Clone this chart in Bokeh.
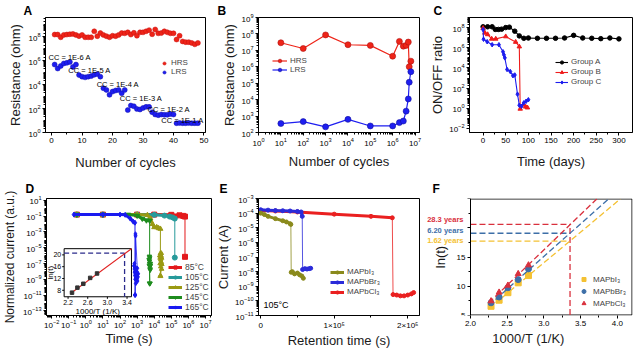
import math
from bokeh.plotting import figure
from bokeh.layouts import column, row
from bokeh.models import (Range1d, FixedTicker, Legend, LegendItem, Label, LinearScale,
                          NumeralTickFormatter, Title)
from bokeh.core.properties import value
from bokeh.embed import file_html
from bokeh.resources import INLINE

FONT = "Liberation Sans"

# ---------------- data ----------------
# Panel A : resistance vs cycle at various compliance currents
a_cycles = list(range(1, 49))
a_hrs = [1.5e8, 1.5e8, 8.9e7, 1.4e8, 1.5e8, 1.6e8, 1.7e8, 1.4e8, 1.1e8, 1.4e8,
         8.9e7, 8.9e7, 8.9e7, 2.8e8, 1.1e8, 2.0e8, 1.4e8, 1.1e8, 8.9e7, 1.2e8,
         1.1e8, 1.4e8, 2.0e8, 1.9e8, 2.3e8, 1.5e8, 2.1e8, 1.2e8, 2.3e8, 2.3e8,
         2.8e8, 3.5e8, 1.6e8, 4.0e8, 1.9e8, 2.0e8, 2.8e8, 2.3e8, 1.9e8, 1.9e8,
         5.8e7, 1.2e8, 4.0e7, 3.5e7, 3.5e7, 3.0e7, 2.3e7, 3.0e7]
a_lrs = [4.7e5, 2.2e5, 3.6e5, 5.8e5, 6.5e5, 7.8e5, 3.0e5, 4.7e5,
         6.2e4, 4.6e4, 4.0e4, 4.6e4, 5.1e4, 6.6e4, 7.6e4, 4.6e4,
         5.0e3, 3.6e3, 1.4e3, 2.6e3, 3.2e3, 3.6e3, 1.9e3, 3.6e3,
         74, 178, 155, 93, 83, 112, 138, 138,
         50, 32, 28, 32, 30, 30, 35, 32,
         6.0, 6.3, 6.0, 6.0, 6.3, 6.0, 6.0, 6.0]
a_cc_text = ["CC = 1E-6 A", "CC = 1E-5 A", "CC = 1E-4 A", "CC = 1E-3 A", "CC = 1E-2 A", "CC = 1E-1 A"]
a_cc_x = [-1.0, 5.5, 14.8, 22.4, 31.5, 36.0]
a_cc_y = [1.9e6, 1.4e5, 1.1e4, 660, 83, 11]

# Panel B : endurance
b_cycles = [1e1, 1e2, 1e3, 1e4, 1e5, 1e6, 2e6, 3e6, 4e6, 5e6, 5.5e6, 6.5e6]
b_hrs = [2.9e7, 1.3e7, 8.7e7, 2.2e7, 2.0e7, 4.4e6, 3.5e7, 1.8e7, 2.0e7, 3.2e7, 1.0e6, 2.2e6]
b_lrs = [350, 460, 220, 630, 250, 250, 400, 500, 2000, 1.1e4, 1.15e5, 5.0e5]

# Panel C : ON/OFF ratio vs time
c_a_days = [0, 10, 20, 27, 34, 41, 50, 58, 70, 80, 90, 100, 120, 140, 160, 180, 200, 220, 240, 260, 280, 300]
c_a_ratio = [1.2e8, 1.2e8, 1.2e8, 6.6e7, 6.6e7, 7.0e7, 1.0e8, 1.1e8, 4.4e7, 1.5e7, 8.7e6, 9.3e6,
             8.7e6, 8.7e6, 8.7e6, 9.3e6, 1.7e7, 9.3e6, 8.7e6, 8.0e6, 9.3e6, 7.6e6]
c_b_days = [0, 4, 10, 19, 28, 50, 72, 80, 82, 89, 94, 98]
c_b_ratio = [8.7e7, 3.0e7, 2.1e7, 7.6e6, 7.6e6, 1.3e7, 3.7e6, 1.3e6, 0.87, 2.3, 1.4, 1.15]
c_c_days = [0, 1, 9, 20, 35, 44, 46, 48, 53, 60, 66, 70, 76, 80, 85, 90, 95, 100]
c_c_ratio = [6.3e7, 7.0e6, 4.0e6, 2.0e6, 2.0e6, 4.0e5, 2.0e5, 1.0e5, 7.0e3, 4.4e3, 1.7e3, 2.0e3,
             25, 2.0, 1.6, 3.5, 5.0, 7.0]

# Panel D : normalized current vs time at temperatures
d85_t = [0.3, 10, 1e3, 1e4, 1e5, 3e5, 5e5, 6.3e5, 6.3e5]
d85_i = [0.16, 0.16, 0.16, 0.16, 0.15, 0.13, 0.11, 0.09, 7e-7]
d105_t = [0.3, 10, 1e3, 1e4, 4e4, 8e4, 1.2e5, 1.6e5, 1.6e5]
d105_i = [0.16, 0.16, 0.16, 0.15, 0.12, 0.09, 0.07, 0.05, 5.6e-7]
d125_t = [0.3, 10, 1e3, 4e3, 6e3, 8e3, 1e4, 1.4e4, 1.8e4, 2.3e4, 2.3e4]
d125_i = [0.16, 0.16, 0.16, 0.14, 0.05, 0.01, 0.004, 0.004, 0.003, 0.0025, 2.5e-9]
d145_t = [0.3, 10, 300, 1e3, 2e3, 3.5e3, 5.4e3, 5.4e3]
d145_i = [0.16, 0.16, 0.16, 0.12, 0.05, 0.03, 0.028, 3e-10]
d165_t = [0.2, 10, 100, 200, 400, 600, 750, 750]
d165_i = [0.16, 0.16, 0.16, 0.15, 0.05, 0.02, 0.015, 1e-11]
d125_cloud_t = [2.1e4, 2.2e4, 2.3e4, 2.4e4, 2.5e4, 2.6e4, 2.7e4, 2.8e4, 2.2e4, 2.4e4, 2.6e4, 2.5e4, 2.3e4, 2.7e4]
d125_cloud_i = [1e-6, 5e-7, 2e-6, 3e-7, 1e-6, 1.5e-7, 5e-7, 8e-8, 1e-7, 4e-8, 2e-6, 8e-7, 3e-9, 2e-8]
d145_cloud_t = [5000, 5200, 5400, 5600, 5800, 6000, 5300, 5500, 5700, 5900, 5100, 5600]
d145_cloud_i = [3e-7, 8e-7, 1e-7, 4e-8, 1.5e-8, 6e-8, 2e-7, 5e-7, 2e-8, 1e-7, 6e-8, 3e-10]
d165_cloud_t = [650, 700, 720, 750, 780, 800, 820, 850, 880, 900, 950, 1000, 1050, 1100, 1150,
                700, 760, 840, 920, 980, 1020, 800, 810, 790]
d165_cloud_i = [5e-8, 2e-8, 8e-9, 3e-9, 1e-9, 6e-9, 2e-8, 4e-9, 1.5e-9, 8e-10, 1e-8, 3e-9, 6e-10, 2e-9, 5e-9,
                1e-7, 4e-8, 3e-10, 7e-9, 1.2e-9, 2.5e-8, 5.6e-4, 3.2e-4, 1e-11]
# inset of D : ln(t) vs 1000/T
ins_x = [2.28, 2.39, 2.51, 2.65, 2.79]
ins_y = [7.2, 8.9, 10.2, 12.2, 13.7]
ins_fit_x = [2.25, 3.49]
ins_fit_y = [6.9, 22.1]
ins_rt_x = 3.35
ins_rt_y = 20.6
ins_xticks = [2.2, 2.6, 3.0, 3.4]
ins_yticks = [8, 12, 16, 20]

# Panel E : retention at 105 C
e_cl_hi_t = [0, 2e4, 5e4, 1e5, 1.5e5, 1.79e5]
e_cl_hi_i = [1.5e-4, 1.4e-4, 1.2e-4, 8.5e-5, 6e-5, 4.8e-5]
e_cl_lo_t = [1.8e5, 1.85e5, 1.9e5, 1.95e5, 2.0e5, 2.05e5, 2.08e5]
e_cl_lo_i = [2.7e-10, 2.5e-10, 2.2e-10, 2.2e-10, 2.5e-10, 3.0e-10, 3.7e-10]
e_br_hi_t = [0, 1e4, 2e4, 3e4, 4e4, 5e4, 5.5e4, 5.65e4]
e_br_hi_i = [1.7e-4, 1.6e-4, 1.5e-4, 1.45e-4, 1.4e-4, 1.3e-4, 1.2e-4, 6e-5]
e_br_lo_t = [5.7e4, 6.0e4, 6.3e4, 6.6e4, 6.8e4]
e_br_lo_i = [1.4e-8, 1.6e-8, 1.5e-8, 1.6e-8, 1.7e-8]
e_i_hi_t = [0, 5e3, 1e4, 2e4, 3e4, 3.5e4, 4e4, 4.1e4]
e_i_hi_i = [1e-4, 8e-5, 6e-5, 4.2e-5, 3e-5, 2.5e-5, 1.9e-5, 1.7e-5]
e_i_lo_t = [4.15e4, 4.3e4, 4.6e4, 5.0e4, 5.3e4, 5.6e4, 5.8e4]
e_i_lo_i = [9e-9, 1e-8, 7e-9, 8e-9, 6e-9, 5e-9, 3.5e-9]

# Panel F : Arrhenius extrapolation
f_x = [2.28, 2.39, 2.51, 2.65, 2.79]
f_ln_i = [6.5, 7.55, 8.85, 10.55, 11.8]
f_ln_br = [7.1, 8.1, 9.7, 11.1, 12.95]
f_ln_cl = [7.4, 8.9, 10.1, 12.1, 13.6]
f_fit_i_x = [2.25, 4.04]; f_fit_i_y = [6.08, 25.0]
f_fit_br_x = [2.25, 3.88]; f_fit_br_y = [6.66, 25.0]
f_fit_cl_x = [2.25, 3.72]; f_fit_cl_y = [7.1, 25.0]
f_rt_x = 3.356
f_rt_ln = [20.61, 19.09, 17.75]
f_years = ["28.3 years", "6.20 years", "1.62 years"]
f_year_label_y = [21.5, 19.6, 17.8]
f_box_x = (2.0, 4.2)     # plotted box of panel F (axis limits)
f_box_y = (5.0, 25.0)

# ---------------- helpers ----------------
F_PX = 73.46  # px per unit along x of panel F (frame 208 px)
SPECS = {
    "A": dict(w=213, h=177, bl=45, br=8, bt=17, bb=43, xr=(-2, 50.5), yr=(1, 10 ** 9.6), xlog=False, ylog=True),
    "B": dict(w=211, h=177, bl=45, br=5, bt=16, bb=45, xr=(1, 10 ** 7.2), yr=(1e2, 1e9), xlog=True, ylog=True),
    "C": dict(w=214, h=177, bl=45, br=6, bt=17, bb=37, xr=(-30, 330), yr=(10 ** -2.4, 1e9), xlog=False, ylog=True),
    "D": dict(w=213, h=178, bl=43, br=2, bt=19, bb=40, xr=(10 ** -2.3, 10 ** 7.35), yr=(10 ** -13.6, 10 ** 1.25), xlog=True, ylog=True),
    "E": dict(w=211, h=178, bl=45, br=5, bt=19, bb=40, xr=(-3000, 2.16e5), yr=(1e-11, 1e-3), xlog=False, ylog=True),
    "F": dict(w=214, h=178, bl=0, br=6, bt=20, bb=40,
              xr=(f_box_x[0] - 46 / F_PX, f_box_x[1] + 0.5 / F_PX),
              yr=(f_box_y[0] - 0.5 / 5.9, f_box_y[1] + 0.5 / 5.9), xlog=False, ylog=False),
}
# panel letters: (offset from frame left, standoff above frame), x-label standoff, y-label standoff
LETTER = {"A": (-22, 0), "B": (-41, 0), "C": (-36, 0), "D": (-21, 5), "E": (-39, 5), "F": (8, 5)}
XSTAND = {"A": 9, "B": 5, "C": 8, "D": 0, "E": 0, "F": 1}
YSTAND = {"A": 2, "B": 1, "C": 1, "D": 3, "E": 1, "F": 6}


def fdims(s):
    return s["w"] - s["bl"] - s["br"], s["h"] - s["bt"] - s["bb"]


def pos(s, dx, dy):
    fw, fh = fdims(s)

    def m(a0, a1, f, log):
        if log:
            l0, l1 = math.log10(a0), math.log10(a1)
            return 10 ** (l0 + f * (l1 - l0))
        return a0 + f * (a1 - a0)
    return m(s["xr"][0], s["xr"][1], dx / fw, s["xlog"]), m(s["yr"][0], s["yr"][1], dy / fh, s["ylog"])


def log_minor(lo, hi, skip_major_every=None):
    out = []
    for e in range(lo, hi):
        for m in range(1, 10):
            if m == 1 and (skip_major_every is None or (e - lo) % skip_major_every == 0):
                continue
            out.append(m * 10.0 ** e)
    return out


def make_fig(key, xlabel, ylabel):
    s = SPECS[key]
    p = figure(width=s["w"], height=s["h"], title=key,
               x_range=Range1d(*s["xr"]), y_range=Range1d(*s["yr"]),
               x_axis_type="log" if s["xlog"] else "linear",
               y_axis_type="log" if s["ylog"] else "linear",
               output_backend="svg", toolbar_location=None,
               min_border_left=s["bl"], min_border_right=s["br"],
               min_border_top=s["bt"], min_border_bottom=s["bb"])
    p.title.text_font = FONT
    p.title.text_font_size = "12px"
    p.title.text_font_style = "bold"
    p.title.text_color = "black"
    p.title.align = "left"
    p.title.offset = LETTER[key][0]
    p.title.standoff = LETTER[key][1]
    p.grid.visible = False
    p.outline_line_color = "black"
    p.outline_line_width = 1
    p.outline_line_alpha = 1
    p.background_fill_color = "white"
    p.border_fill_color = "white"
    for ax in (p.xaxis[0], p.yaxis[0]):
        ax.axis_line_color = "black"
        ax.axis_line_width = 1
        ax.major_tick_line_color = "black"
        ax.major_tick_out = 3
        ax.major_tick_in = 0
        ax.minor_tick_line_color = "black"
        ax.minor_tick_out = 2
        ax.minor_tick_in = 0
        ax.major_label_text_font = FONT
        ax.major_label_text_font_size = "8px"
        ax.major_label_text_color = "black"
        ax.axis_label_text_font = FONT
        ax.axis_label_text_font_size = "13px"
        ax.axis_label_text_font_style = "normal"
        ax.axis_label_text_color = "#1a1a1a"
        ax.major_label_standoff = 2
    p.xaxis.axis_label_standoff = XSTAND[key]
    p.yaxis.axis_label_standoff = YSTAND[key]
    p.xaxis.axis_label = xlabel
    p.yaxis.axis_label = ylabel
    return p


def add_legend(p, items, loc, gw=12, lh=9, sp=1, fs="8px", pad=2):
    lg = Legend(items=[LegendItem(label=l, renderers=r) for l, r in items], location=loc,
                orientation="vertical", background_fill_alpha=0, border_line_alpha=0,
                label_text_font=FONT, label_text_font_size=fs, glyph_width=gw, glyph_height=lh,
                label_height=lh, spacing=sp, padding=pad, margin=0, label_standoff=3)
    p.add_layout(lg)
    return lg


RED = "#ee2418"
BLUE = "#1e1ef0"

# ---------------- Panel A ----------------
pa = make_fig("A", "Number of cycles", "Resistance (ohm)")
pa.xaxis.ticker = FixedTicker(ticks=[0, 10, 20, 30, 40, 50], minor_ticks=[5, 15, 25, 35, 45])
pa.yaxis.ticker = FixedTicker(ticks=[1, 1e2, 1e4, 1e6, 1e8], minor_ticks=log_minor(0, 10, 2))
ra1 = pa.scatter(a_cycles, a_hrs, marker="circle", size=5, fill_color=RED, line_color="#c81010", line_width=0.5)
ra2 = pa.scatter(a_cycles, a_lrs, marker="circle", size=5, fill_color=BLUE, line_color="#1010b0", line_width=0.5)
pa.text(x=a_cc_x, y=a_cc_y, text=a_cc_text, text_font=value(FONT), text_font_size=value("7.5px"),
        text_align="left", text_baseline="middle", text_color="black")
add_legend(pa, [("HRS", [ra1]), ("LRS", [ra2])], (113, 54), gw=8, lh=8, sp=0)

# ---------------- Panel B ----------------
pb = make_fig("B", "Number of cycles", "Resistance (ohm)")
pb.xaxis.ticker = FixedTicker(ticks=[10.0 ** e for e in range(0, 8)], minor_ticks=log_minor(0, 8))
pb.yaxis.ticker = FixedTicker(ticks=[10.0 ** e for e in range(2, 10)], minor_ticks=log_minor(2, 9))
lb1 = pb.line(b_cycles, b_hrs, line_color=RED, line_width=1.2)
sb1 = pb.scatter(b_cycles, b_hrs, marker="circle", size=6, fill_color=RED, line_color="#b01010", line_width=0.6)
lb2 = pb.line(b_cycles, b_lrs, line_color=BLUE, line_width=1.2)
sb2 = pb.scatter(b_cycles, b_lrs, marker="circle", size=6, fill_color=BLUE, line_color="#1010a0", line_width=0.6)
add_legend(pb, [("HRS", [lb1, sb1]), ("LRS", [lb2, sb2])], (12, 56), gw=15, lh=9, sp=0)

# ---------------- Panel C ----------------
pc = make_fig("C", "Time (days)", "ON/OFF ratio")
pc.xaxis.ticker = FixedTicker(ticks=[0, 50, 100, 150, 200, 250, 300], minor_ticks=[25, 75, 125, 175, 225, 275])
pc.yaxis.ticker = FixedTicker(ticks=[1e-2, 1, 1e2, 1e4, 1e6, 1e8], minor_ticks=log_minor(-2, 9, 2))
c_items = []
for lab, xs, ys, col, mk in [("Group A", c_a_days, c_a_ratio, "black", "circle"),
                             ("Group B", c_b_days, c_b_ratio, "#ee1c1c", "triangle"),
                             ("Group C", c_c_days, c_c_ratio, "#1c1cee", "diamond")]:
    l = pc.line(xs, ys, line_color=col, line_width=1.1)
    s = pc.scatter(xs, ys, marker=mk, size=4.5, fill_color=col, line_color=col)
    c_items.append((lab, [l, s]))
add_legend(pc, c_items, (84, 44), gw=13, lh=8, sp=1)

# ---------------- Panel D ----------------
pd = make_fig("D", "Time (s)", "Normalized current (a.u.)")
pd.yaxis.axis_label_text_font_size = "12px"
pd.xaxis.major_label_standoff = 1
pd.xaxis.ticker = FixedTicker(ticks=[10.0 ** e for e in range(-2, 8)], minor_ticks=log_minor(-3, 8))
pd.yaxis.ticker = FixedTicker(ticks=[10.0 ** e for e in range(-13, 2, 2)], minor_ticks=log_minor(-14, 2, 2))
d_items = []
d_series = [("85°C", d85_t, d85_i, "#e3191b", "square", None, None),
            ("105°C", d105_t, d105_i, "#279a9a", "circle", None, None),
            ("125°C", d125_t, d125_i, "#9a9a14", "triangle", d125_cloud_t, d125_cloud_i),
            ("145°C", d145_t, d145_i, "#1e8c1e", "inverted_triangle", d145_cloud_t, d145_cloud_i),
            ("165°C", d165_t, d165_i, "#1a1af0", "diamond", d165_cloud_t, d165_cloud_i)]
for lab, ts, vs, col, mk, ct, cv in d_series:
    l = pd.line(ts[:-1], vs[:-1], line_color=col, line_width=3)
    pd.line(ts[-2:], vs[-2:], line_color=col, line_width=1)
    s = pd.scatter(ts, vs, marker=mk, size=5, fill_color=col, line_color=col)
    if ct is not None:
        pd.line(ct, cv, line_color=col, line_width=0.8)
        pd.scatter(ct, cv, marker=mk, size=4.5, fill_color=col, line_color=col)
    d_items.append((lab, [l, s]))
add_legend(pd, d_items, (121, 2), gw=14, lh=8, sp=0, fs="8.5px", pad=1)

# inset (own linear scales mapped to a sub-region of the frame)
pd.extra_x_ranges = {"ix": Range1d(1.761, 5.119)}
pd.extra_y_ranges = {"iy": Range1d(-0.546, 39.11)}
pd.extra_x_scales = {"ix": LinearScale()}
pd.extra_y_scales = {"iy": LinearScale()}
IB = dict(l=2.12, r=3.49, b=5.8, t=22.1)
ikw = dict(x_range_name="ix", y_range_name="iy")
pd.quad(left=[IB["l"]], right=[IB["r"]], bottom=[IB["b"]], top=[IB["t"]],
        fill_color="white", line_color="black", line_width=1, **ikw)
pd.segment(x0=[IB["l"]], y0=[ins_rt_y], x1=[ins_rt_x], y1=[ins_rt_y], line_color="#2b2b8c",
           line_width=1.3, line_dash="5 3", **ikw)
pd.segment(x0=[ins_rt_x], y0=[ins_rt_y], x1=[ins_rt_x], y1=[IB["b"]], line_color="#2b2b8c",
           line_width=1.3, line_dash="5 3", **ikw)
pd.line(ins_fit_x, ins_fit_y, line_color="#e02020", line_width=1.1, **ikw)
pd.scatter(ins_x, ins_y, marker="square", size=3.5, fill_color="#333333", line_color="#333333", **ikw)
pd.segment(x0=ins_xticks, y0=[IB["b"]] * 4, x1=ins_xticks, y1=[IB["b"] - 0.7] * 4, line_color="black", **ikw)
pd.segment(x0=[IB["l"]] * 4, y0=ins_yticks, x1=[IB["l"] - 0.04] * 4, y1=ins_yticks, line_color="black", **ikw)
pd.text(x=ins_xticks, y=[IB["b"] - 1.0] * 4, text=[f"{v:.1f}" for v in ins_xticks],
        text_font=value(FONT), text_font_size=value("7px"), text_align="center", text_baseline="top", **ikw)
pd.text(x=[IB["l"] - 0.06] * 4, y=ins_yticks, text=[str(v) for v in ins_yticks],
        text_font=value(FONT), text_font_size=value("7px"), text_align="right", text_baseline="middle", **ikw)
pd.text(x=[(IB["l"] + IB["r"]) / 2], y=[IB["b"] - 4.9], text=["1000/T (1/K)"],
        text_font=value(FONT), text_font_size=value("8px"), text_align="center", text_baseline="middle", **ikw)
pd.text(x=[IB["l"] - 0.27], y=[(IB["b"] + IB["t"]) / 2], text=["ln(t)"], angle=math.pi / 2,
        text_font=value(FONT), text_font_size=value("8px"), text_align="center", text_baseline="middle", **ikw)

# ---------------- Panel E ----------------
pe = make_fig("E", "Retention time (s)", "Current (A)")
pe.xaxis.ticker = FixedTicker(ticks=[0, 100000, 200000], minor_ticks=[50000, 150000])
pe.xaxis.major_label_overrides = {0: "0", 100000: "1×10⁵", 200000: "2×10⁵"}
pe.yaxis.ticker = FixedTicker(ticks=[10.0 ** e for e in range(-11, -2)], minor_ticks=log_minor(-11, -3))
e_items = {}
for lab, ht, hv, lt, lv, col in [("MAPbCl₃", e_cl_hi_t, e_cl_hi_i, e_cl_lo_t, e_cl_lo_i, "#ea2020"),
                                 ("MAPbBr₃", e_br_hi_t, e_br_hi_i, e_br_lo_t, e_br_lo_i, "#2b2bd9"),
                                 ("MAPbI₃", e_i_hi_t, e_i_hi_i, e_i_lo_t, e_i_lo_i, "#8a8a1c")]:
    l = pe.line(ht, hv, line_color=col, line_width=3)
    pe.line(lt, lv, line_color=col, line_width=3)
    pe.line([ht[-1], lt[0]], [hv[-1], lv[0]], line_color=col, line_width=0.8)
    s = pe.scatter(ht + lt, hv + lv, marker="circle", size=4, fill_color=col, line_color=col)
    e_items[lab] = [l, s]
add_legend(pe, [(k, e_items[k]) for k in ["MAPbI₃", "MAPbBr₃", "MAPbCl₃"]], (70, 17), gw=14, lh=8, sp=1)
ex, ey = pos(SPECS["E"], 5, 11)
pe.add_layout(Label(x=ex, y=ey, text="105°C", text_font=FONT, text_font_size="9px",
                    text_align="left", text_baseline="middle", text_color="black"))

# ---------------- Panel F ----------------
# The frame is widened to the left so that the coloured lifetime labels can be drawn;
# the y axis is pinned at x = 2.0 and the box is drawn around the 2.0-4.2 / 5-25 window.
pf = make_fig("F", None, "ln(t)")
pf.outline_line_alpha = 0
pf.yaxis.fixed_location = f_box_x[0]
pf.xaxis.axis_line_alpha = 0
pf.xaxis.ticker = FixedTicker(ticks=[2.0, 2.5, 3.0, 3.5, 4.0], minor_ticks=[2.25, 2.75, 3.25, 3.75])
pf.xaxis.formatter = NumeralTickFormatter(format="0.0")
pf.yaxis.ticker = FixedTicker(ticks=[5, 10, 15, 20, 25], minor_ticks=[7.5, 12.5, 17.5, 22.5])
pf.yaxis.major_label_overrides = {20: "", 25: ""}
pf.add_layout(Title(text="1000/T (1/K)", align="center", offset=23, text_font=FONT,
                    text_font_size="13px", text_font_style="normal", text_color="#1a1a1a",
                    standoff=0), "below")
pf.segment(x0=[f_box_x[0], f_box_x[0], f_box_x[1]], y0=[f_box_y[0], f_box_y[1], f_box_y[0]],
           x1=[f_box_x[1], f_box_x[1], f_box_x[1]], y1=[f_box_y[0], f_box_y[1], f_box_y[1]],
           line_color="black", line_width=1)
FY, FB, FR = "#f4c133", "#3d6fa8", "#d9303d"
for col, yv in zip([FR, FB, FY], f_rt_ln):
    pf.segment(x0=[f_box_x[0]], y0=[yv], x1=[f_rt_x], y1=[yv], line_color=col, line_width=1.3, line_dash="6 3")
pf.segment(x0=[f_rt_x], y0=[f_box_y[0]], x1=[f_rt_x], y1=[f_rt_ln[0]], line_color=FR, line_width=1.3, line_dash="6 3")
f_items = []
for lab, ys, fx, fy, col, mk in [("MAPbI₃", f_ln_i, f_fit_i_x, f_fit_i_y, FY, "square"),
                                 ("MAPbBr₃", f_ln_br, f_fit_br_x, f_fit_br_y, FB, "circle"),
                                 ("MAPbCl₃", f_ln_cl, f_fit_cl_x, f_fit_cl_y, FR, "triangle")]:
    pf.line(fx, fy, line_color=col, line_width=1.3, line_dash="6 3")
    s = pf.scatter(f_x, ys, marker=mk, size=6, fill_color=col, line_color=col)
    dl = pf.line([], [], line_color=col, line_width=1.3)
    f_items.append((lab, [dl, s]))
add_legend(pf, f_items, (46 + 105, 5), gw=13, lh=10, sp=2)
pf.text(x=[f_box_x[0] - 7 / F_PX] * 3, y=f_year_label_y, text=f_years,
        text_color=[FR, FB, FY], text_font=value(FONT), text_font_size=value("7.5px"),
        text_font_style="bold", text_align="right", text_baseline="middle")

layout = column(row(pa, pb, pc), row(pd, pe, pf))
open("out.html", "w").write(file_html(layout, INLINE))
